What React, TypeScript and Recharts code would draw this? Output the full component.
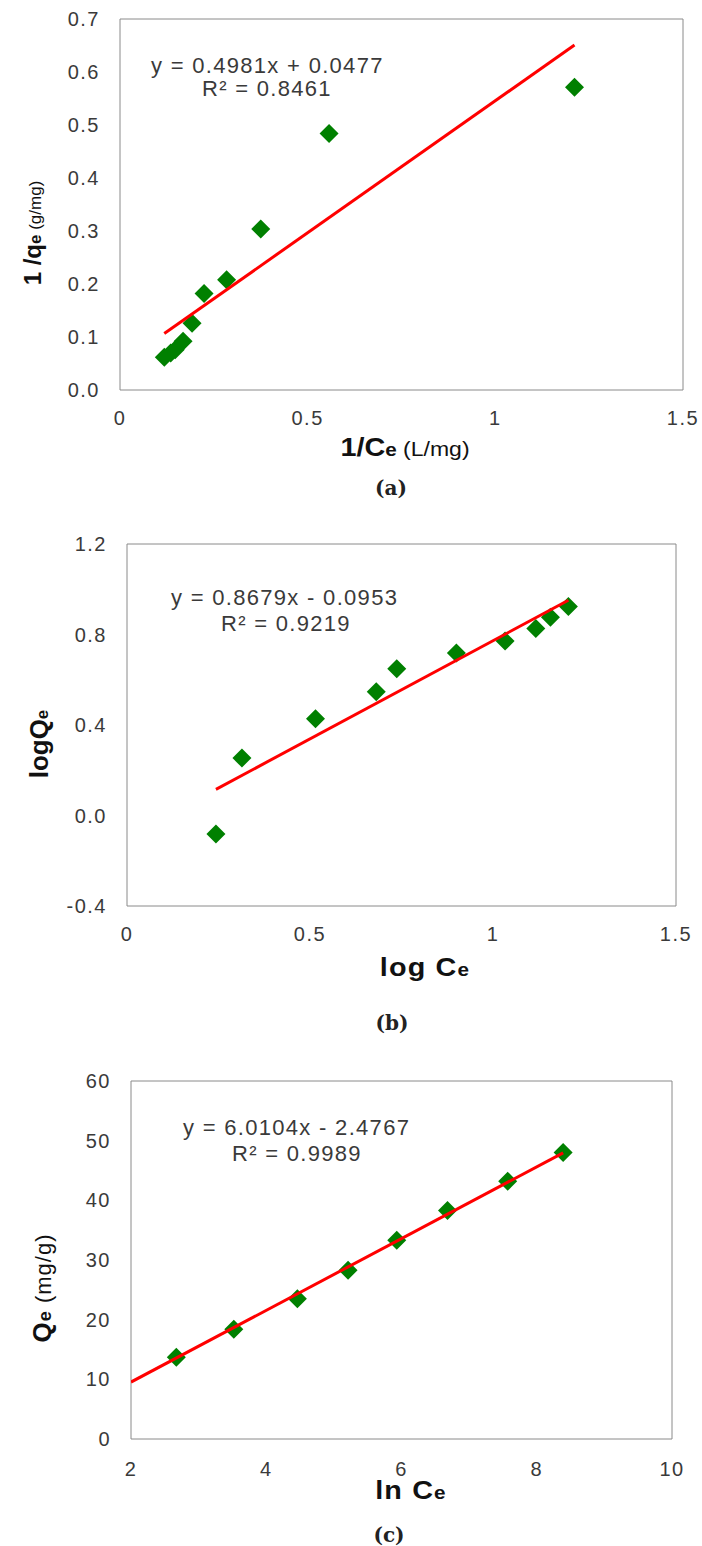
import React from 'react'
import { ScatterChart, Scatter, XAxis, YAxis, ReferenceArea } from 'recharts'

// (a) Langmuir: 1/Ce vs 1/qe
const aX = [0.118, 0.135, 0.147, 0.168, 0.192, 0.224, 0.284, 0.375, 0.557, 1.211]
const aY = [0.062, 0.070, 0.076, 0.092, 0.126, 0.182, 0.208, 0.304, 0.484, 0.571]
const aXTicks = [0, 0.5, 1, 1.5]
const aYTicks = [0, 0.1, 0.2, 0.3, 0.4, 0.5, 0.6, 0.7]
const aFit = [0.4981, 0.0477]

// (b) Freundlich: log Ce vs log Qe
const bX = [0.243, 0.314, 0.515, 0.681, 0.737, 0.900, 1.033, 1.117, 1.157, 1.206]
const bY = [-0.082, 0.254, 0.428, 0.547, 0.649, 0.718, 0.771, 0.826, 0.876, 0.924]
const bXTicks = [0, 0.5, 1, 1.5]
const bYTicks = [-0.4, 0, 0.4, 0.8, 1.2]
const bFit = [0.8679, -0.0953]

// (c) Temkin: ln Ce vs Qe
const cX = [2.67, 3.52, 4.46, 5.21, 5.93, 6.68, 7.57, 8.39]
const cY = [13.7, 18.4, 23.5, 28.3, 33.3, 38.3, 43.2, 48.0]
const cXTicks = [2, 4, 6, 8, 10]
const cYTicks = [0, 10, 20, 30, 40, 50, 60]
const cFit = [6.0104, -2.4767]

const sans = '"Liberation Sans", Arial, sans-serif'
const textColor = '#3a3a3a'

const toPoints = (xs: number[], ys: number[]) => xs.map((x, i) => ({ x, y: ys[i] }))

const fitLine = (fit: number[], x0: number, x1: number) =>
    [x0, x1].map(x => ({ x, y: fit[0] * x + fit[1] }))

const Diamond = (props: any) => {
    const { cx, cy } = props
    const r = 9.5
    return <polygon points={`${cx},${cy - r} ${cx + r},${cy} ${cx},${cy + r} ${cx - r},${cy}`} fill="#008000" />
}

const NoDot = () => <g />

const makeXTick = (fmt: (v: number) => string) => (props: any) => (
    <text x={props.x} y={props.y} dy={15} textAnchor="middle" fill={textColor}
        style={{ fontFamily: sans, fontSize: 20, letterSpacing: '1.5px' }}>
        {fmt(props.payload.value)}
    </text>
)

const makeYTick = (fmt: (v: number) => string) => (props: any) => (
    <text x={props.x} y={props.y} dy={7} textAnchor="end" fill={textColor}
        style={{ fontFamily: sans, fontSize: 20, letterSpacing: '1.5px' }}>
        {fmt(props.payload.value)}
    </text>
)

const plain = (v: number) => String(v)
const oneDec = (v: number) => v.toFixed(1)

interface PanelProps {
    top: number
    height: number
    margin: { top: number, right: number, bottom: number, left: number }
    yWidth: number
    xTickMargin: number
    xDomain: number[]
    yDomain: number[]
    xTicks: number[]
    yTicks: number[]
    yFmt: (v: number) => string
    points: { x: number, y: number }[]
    trend: { x: number, y: number }[]
}

const Panel = (p: PanelProps) => (
    <div style={{ position: 'absolute', left: 0, top: p.top }}>
        <ScatterChart width={702} height={p.height} margin={p.margin}>
            <XAxis type="number" dataKey="x" domain={p.xDomain} ticks={p.xTicks} allowDataOverflow
                axisLine={false} tickLine={false} tickSize={0} tickMargin={p.xTickMargin} height={30}
                tick={makeXTick(plain)} />
            <YAxis type="number" dataKey="y" domain={p.yDomain} ticks={p.yTicks} allowDataOverflow
                axisLine={false} tickLine={false} tickSize={0} tickMargin={20} width={p.yWidth}
                tick={makeYTick(p.yFmt)} />
            <ReferenceArea x1={p.xDomain[0]} x2={p.xDomain[1]} y1={p.yDomain[0]} y2={p.yDomain[1]}
                fill="none" stroke="#8a8a8a" strokeWidth={1} />
            <Scatter data={p.points} shape={Diamond} isAnimationActive={false} />
            <Scatter data={p.trend} shape={NoDot} line={{ stroke: '#ff0000', strokeWidth: 3 }}
                isAnimationActive={false} />
        </ScatterChart>
    </div>
)

// axis titles: horizontal ones look stretched in the source, so widen them a bit
const Title = ({ x, y, rot, ls = 0, children }: { x: number, y: number, rot?: boolean, ls?: number, children: React.ReactNode }) => (
    <div style={{
        position: 'absolute', left: x, top: y, whiteSpace: 'nowrap', fontFamily: sans, color: '#111',
        transform: `translate(-50%, -50%)${rot ? ' rotate(-90deg)' : ' scaleX(1.15)'}`,
        letterSpacing: `${ls}px`, lineHeight: 1
    }}>
        {children}
    </div>
)

const Big = ({ s = 25, children }: { s?: number, children: React.ReactNode }) => <span style={{ fontWeight: 700, fontSize: s }}>{children}</span>
const Sub = ({ s = 18, children }: { s?: number, children: React.ReactNode }) => <span style={{ fontWeight: 700, fontSize: s }}>{children}</span>
const Unit = ({ s = 20, children }: { s?: number, children: React.ReactNode }) => <span style={{ fontSize: s }}>{children}</span>

const Eq = ({ x, y, children }: { x: number, y: number, children: React.ReactNode }) => (
    <div style={{
        position: 'absolute', left: x, top: y - 12, whiteSpace: 'nowrap', fontFamily: sans, fontSize: 22,
        lineHeight: '24px', letterSpacing: '1.3px', color: textColor
    }}>
        {children}
    </div>
)

const Caption = ({ x, y, children }: { x: number, y: number, children: React.ReactNode }) => (
    <div style={{
        position: 'absolute', left: x, top: y, transform: 'translate(-50%, -50%)', fontFamily: '"DejaVu Serif", serif',
        fontWeight: 700, fontSize: 20, color: '#222', lineHeight: 1
    }}>
        {children}
    </div>
)

export default function App() {
    const aPts = toPoints(aX, aY)
    const bPts = toPoints(bX, bY)
    const cPts = toPoints(cX, cY)
    return (
        <div style={{ position: 'absolute', left: 0, top: 0, width: 702, height: 1546, background: '#fff' }}>
            <Panel top={0} height={450} margin={{ top: 19, right: 19, bottom: 30, left: 0 }} yWidth={120}
                xTickMargin={20} xDomain={[0, 1.5]} yDomain={[0, 0.7]} xTicks={aXTicks} yTicks={aYTicks}
                yFmt={oneDec} points={aPts} trend={fitLine(aFit, Math.min(...aX), Math.max(...aX))} />
            <Panel top={500} height={470} margin={{ top: 44, right: 26, bottom: 34, left: 0 }} yWidth={127}
                xTickMargin={20} xDomain={[0, 1.5]} yDomain={[-0.4, 1.2]} xTicks={bXTicks} yTicks={bYTicks}
                yFmt={oneDec} points={bPts} trend={fitLine(bFit, Math.min(...bX), Math.max(...bX))} />
            <Panel top={1040} height={460} margin={{ top: 41, right: 30, bottom: 31, left: 0 }} yWidth={131}
                xTickMargin={22} xDomain={[2, 10]} yDomain={[0, 60]} xTicks={cXTicks} yTicks={cYTicks}
                yFmt={plain} points={cPts} trend={fitLine(cFit, cXTicks[0], Math.max(...cX))} />

            <Eq x={151} y={66}>y = 0.4981x + 0.0477</Eq>
            <Eq x={202} y={89}>R² = 0.8461</Eq>
            <Eq x={171} y={598}>y = 0.8679x - 0.0953</Eq>
            <Eq x={221} y={624}>R² = 0.9219</Eq>
            <Eq x={183} y={1128}>y = 6.0104x - 2.4767</Eq>
            <Eq x={232} y={1154}>R² = 0.9989</Eq>

            <Title x={405} y={447}><Big>1/C</Big><Sub>e</Sub><Unit> (L/mg)</Unit></Title>
            <Title x={33} y={233} rot><Big s={24}>1 /q</Big><Sub s={17}>e</Sub><Unit s={17}> (g/mg)</Unit></Title>
            <Title x={425} y={967} ls={1}><Big>log C</Big><Sub>e</Sub></Title>
            <Title x={39} y={744} rot><Big s={26}>logQ</Big><Sub s={17}>e</Sub></Title>
            <Title x={411} y={1490} ls={1}><Big>ln C</Big><Sub>e</Sub></Title>
            <Title x={42} y={1288} rot ls={1}><Big s={26}>Q</Big><Sub>e</Sub><Unit s={22}> (mg/g)</Unit></Title>

            <Caption x={391} y={488}>(a)</Caption>
            <Caption x={392} y={1023}>(b)</Caption>
            <Caption x={389} y={1535}>(c)</Caption>
        </div>
    )
}
